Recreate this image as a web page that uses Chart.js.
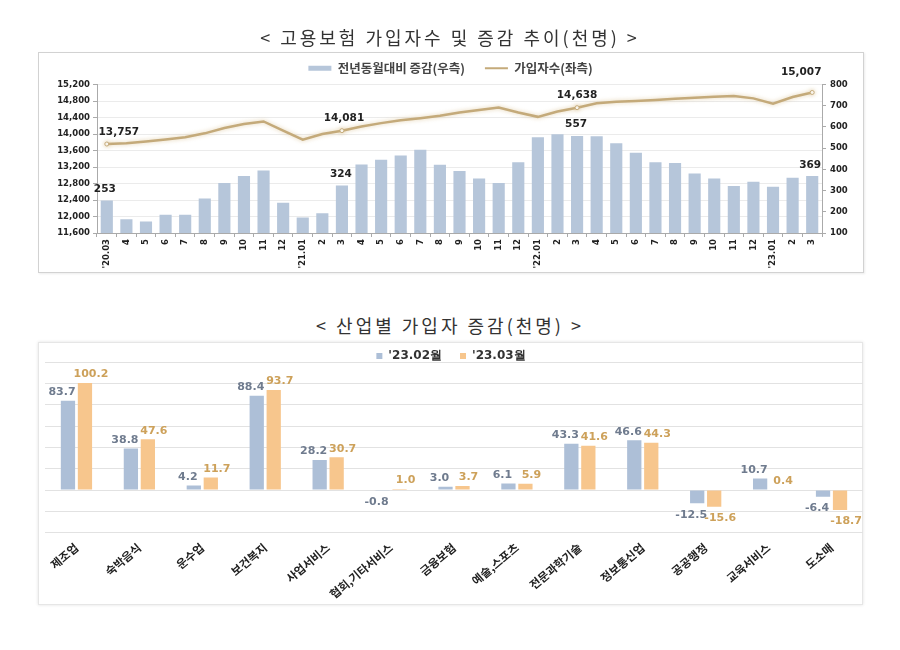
<!DOCTYPE html>
<html><head><meta charset="utf-8">
<script src="https://cdn.jsdelivr.net/npm/chart.js@4.4.0/dist/chart.umd.min.js"></script>
<style>
html,body{margin:0;padding:0;background:#fff;width:900px;height:650px;overflow:hidden;font-family:'Noto Sans CJK KR','Noto Sans',sans-serif;}
.title{position:absolute;left:0;width:900px;text-align:center;font-size:18px;color:#333;letter-spacing:3px;z-index:3;line-height:18px;white-space:nowrap;}
.frame{position:absolute;box-sizing:border-box;background:#fff;}
.wrap{position:absolute;z-index:2;}
</style></head><body>
<div class="frame" style="left:38px;top:52px;width:826px;height:221px;border:1px solid #d2d2d2;box-shadow:1px 1px 2px rgba(0,0,0,0.08);"></div>
<div class="frame" style="left:38px;top:342px;width:825px;height:263px;border:1px solid #e6e6e6;box-shadow:0 0 3px rgba(0,0,0,0.12);"></div>
<div class="title" style="top:28px;">&lt; 고용보험 가입자수 및 증감 추이(천명) &gt;</div>
<div class="title" style="top:316px;">&lt; 산업별 가입자 증감(천명) &gt;</div>
<div class="wrap" style="left:38px;top:40px;width:825px;height:232px;"><canvas id="c1"></canvas></div>
<div class="wrap" style="left:38px;top:342px;width:825px;height:262px;"><canvas id="c2"></canvas></div>
<script>
// ---------- Top chart data ----------
const months = ["'20.03","4","5","6","7","8","9","10","11","12",
  "'21.01","2","3","4","5","6","7","8","9","10","11","12",
  "'22.01","2","3","4","5","6","7","8","9","10","11","12",
  "'23.01","2","3"];
const yoyChange = [253,165,154,186,186,263,336,369,395,243,
  173,193,324,423,445,465,492,422,392,357,336,434,
  551,566,557,556,523,478,434,430,380,357,321,341,
  318,360,369];
const subscribers = [13757,13776,13816,13864,13920,14016,14144,14240,14304,14080,
  13864,14000,14081,14184,14264,14336,14384,14440,14520,14584,14640,14520,
  14416,14544,14638,14744,14784,14800,14824,14856,14880,14904,14920,14864,
  14736,14896,15007];
const leftAxis = {min:11600, max:15200, step:400};
const rightAxis = {min:100, max:800, step:100};
const labelledMonths = [0,12,24,36];

// ---------- Bottom chart data ----------
const industries = ['제조업','숙박음식','운수업','보건복지','사업서비스','협회,기타서비스','금융보험','예술,스포츠','전문과학기술','정보통신업','공공행정','교육서비스','도소매'];
const feb23 = [83.7,38.8,4.2,88.4,28.2,-0.8,3.0,6.1,43.3,46.6,-12.5,10.7,-6.4];
const mar23 = [100.2,47.6,11.7,93.7,30.7,1.0,3.7,5.9,41.6,44.3,-15.6,0.4,-18.7];
const seriesNames = ["'23.02월","'23.03월"];
const bottomAxis = {min:-40, max:120, step:20};

// ---------- styles ----------
const BAR1 = '#b6c6da', LINE1 = '#c4aa7a';
const FEB = '#adbfd7', MAR = '#f7c68d';
const DJ = "'DejaVu Sans', Verdana, sans-serif";
const KR = "'Noto Sans CJK KR', 'Noto Sans', sans-serif";
const lineLabelOffset = {0:[12,-12],12:[2,-12],24:[0,-12],36:[-11,-20]};
const barLabelOffset = {0:[-2,-11],12:[-1,-11],24:[-1,-12],36:[-2,-11]};

const fmt = v => v.toLocaleString('en-US');

const topLabels = {
  id:'topLabels',
  beforeDatasetDraw(chart, args){
    if(args.index===1){ const c=chart.ctx; c.save(); c.shadowColor='rgba(215,190,140,0.7)'; c.shadowBlur=4; }
  },
  afterDatasetDraw(chart, args){
    if(args.index===1){ chart.ctx.restore(); }
  },
  afterDatasetsDraw(chart){
    const c = chart.ctx;
    const bm = chart.getDatasetMeta(0), lm = chart.getDatasetMeta(1);
    c.save();
    c.font = 'bold 10.5px ' + DJ;
    c.fillStyle = '#222';
    c.textAlign = 'center';
    c.textBaseline = 'middle';
    labelledMonths.forEach(i=>{
      const b = bm.data[i], bo = barLabelOffset[i];
      c.fillText(fmt(yoyChange[i]), b.x+bo[0], b.y+bo[1]);
      const p = lm.data[i], lo = lineLabelOffset[i];
      c.fillText(fmt(subscribers[i]), p.x+lo[0], p.y+lo[1]);
    });
    c.restore();
  }
};

new Chart(document.getElementById('c1'), {
  type:'bar',
  data:{
    labels: months,
    datasets:[
      {type:'bar', label:'전년동월대비 증감(우측)', data:yoyChange, yAxisID:'yR', backgroundColor:BAR1, order:2, categoryPercentage:0.62, barPercentage:1},
      {type:'line', label:'가입자수(좌측)', data:subscribers, yAxisID:'yL', borderColor:LINE1, borderWidth:2.5, tension:0, order:1,
        pointRadius: ctx => labelledMonths.includes(ctx.dataIndex) ? 2 : 0,
        pointBackgroundColor:'#fff', pointBorderColor:LINE1, pointBorderWidth:1}
    ]
  },
  options:{
    responsive:true, maintainAspectRatio:false, animation:false,
    layout:{padding:{top:2,left:0,right:0,bottom:0}},
    plugins:{
      tooltip:{enabled:false},
      legend:{position:'top', labels:{
        usePointStyle:true, pointStyleWidth:23, boxHeight:5, padding:20,
        font:{family:KR, size:12.5, weight:'bold'}, color:'#444',
        generateLabels(chart){
          return chart.data.datasets.map((ds,i)=>({
            text:ds.label, datasetIndex:i, hidden:false, fontColor:'#444',
            fillStyle: i===0?BAR1:LINE1, strokeStyle: i===0?BAR1:LINE1,
            lineWidth: i===0?0:2, pointStyle: i===0?'rect':'line'
          }));
        }
      }}
    },
    scales:{
      x:{
        offset:true,
        grid:{display:true, drawOnChartArea:false, tickLength:4, color:'#aaa'},
        border:{color:'#aaa'},
        ticks:{minRotation:90, maxRotation:90, autoSkip:false, padding:2, color:'#222', font:{family:DJ, size:8.5, weight:'bold'}},
        afterFit(s){ s.height = 39; s.paddingLeft = 0; s.paddingRight = 0; }
      },
      yL:{
        position:'left', min:leftAxis.min, max:leftAxis.max,
        ticks:{stepSize:leftAxis.step, callback:v=>fmt(v), color:'#222', padding:3, font:{family:DJ, size:8.5, weight:'bold'}},
        grid:{color:'#ebebeb', tickColor:'#aaa', tickLength:4},
        border:{color:'#aaa'},
        afterFit(s){ s.width = 59; }
      },
      yR:{
        position:'right', min:rightAxis.min, max:rightAxis.max,
        ticks:{stepSize:rightAxis.step, color:'#222', padding:4, font:{family:DJ, size:8.5, weight:'bold'}},
        grid:{drawOnChartArea:false, tickColor:'#aaa', tickLength:4},
        border:{color:'#aaa'},
        afterFit(s){ s.width = 41; }
      }
    }
  },
  plugins:[topLabels]
});

// ---------- Bottom chart ----------
const bottomLabels = {
  id:'bottomLabels',
  afterDatasetsDraw(chart){
    const c = chart.ctx;
    c.save();
    c.font = 'bold 11px ' + DJ;
    c.textAlign = 'center';
    [feb23, mar23].forEach((vals, di)=>{
      const meta = chart.getDatasetMeta(di);
      c.fillStyle = di===0 ? '#6f7b8e' : '#cda15a';
      const dx = di===0 ? -6 : 6;
      meta.data.forEach((bar, i)=>{
        const v = vals[i];
        if(v >= 0){ c.textBaseline='bottom'; c.fillText(v.toFixed(1), bar.x+dx, bar.y-3); }
        else { c.textBaseline='top'; c.fillText(v.toFixed(1), bar.x+dx, bar.y+6); }
      });
    });
    c.restore();
  }
};

const bottomLegend = {
  id:'bottomLegend',
  afterDraw(chart){
    const c = chart.ctx;
    c.save();
    c.font = 'bold 12px ' + DJ;
    c.textBaseline = 'middle';
    c.textAlign = 'left';
    const items = chart.data.datasets.map(ds=>({text:ds.label, color:ds.backgroundColor, w:c.measureText(ds.label).width}));
    const box = 6, gap = 6, sep = 18;
    const total = items.reduce((s,it)=>s+box+gap+it.w,0) + sep*(items.length-1);
    let x = (chart.chartArea.left + chart.chartArea.right)/2 - total/2 - 3;
    const y = 14;
    items.forEach(it=>{
      c.fillStyle = it.color; c.fillRect(x, y-box/2, box, box);
      x += box + gap;
      c.fillStyle = '#333'; c.fillText(it.text, x, y);
      x += it.w + sep;
    });
    c.restore();
  }
};

new Chart(document.getElementById('c2'), {
  type:'bar',
  data:{
    labels: industries,
    datasets:[
      {label:seriesNames[0], data:feb23, backgroundColor:FEB, categoryPercentage:0.54, barPercentage:0.84},
      {label:seriesNames[1], data:mar23, backgroundColor:MAR, categoryPercentage:0.54, barPercentage:0.84}
    ]
  },
  options:{
    responsive:true, maintainAspectRatio:false, animation:false,
    layout:{padding:{top:20,left:0,right:0,bottom:0}},
    plugins:{
      tooltip:{enabled:false},
      legend:{display:false}
    },
    scales:{
      x:{
        grid:{display:false, drawTicks:false},
        border:{display:false},
        ticks:{minRotation:40, maxRotation:40, autoSkip:false, padding:8, color:'#222', font:{family:KR, size:11.5, weight:'bold'}},
        afterFit(s){ s.height = 71.33; s.paddingLeft = 0; s.paddingRight = 0; }
      },
      y:{
        min:bottomAxis.min, max:bottomAxis.max,
        ticks:{display:false, stepSize:bottomAxis.step},
        grid:{drawTicks:false, color:'#e2e2e2'},
        border:{display:false},
        afterFit(s){ s.width = 7; s.paddingTop = 0; }
      }
    }
  },
  plugins:[bottomLabels, bottomLegend]
});
</script>
</body></html>
